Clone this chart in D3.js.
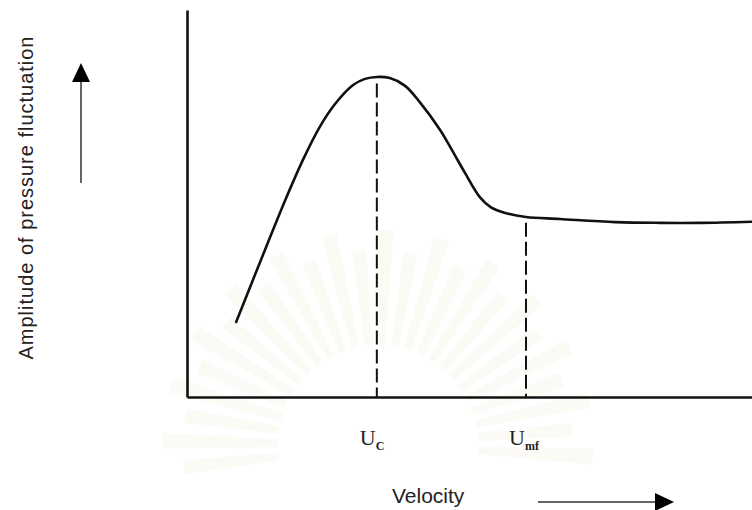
<!DOCTYPE html>
<html>
<head>
<meta charset="utf-8">
<script src="https://cdn.jsdelivr.net/npm/d3@7"></script>
<style>
  html, body { margin: 0; padding: 0; background: #fff; }
  svg { display: block; }
</style>
</head>
<body>
<svg id="chart" width="752" height="510"></svg>
<script>
// ---- data (arbitrary units: velocity 0..100, amplitude 0..100) ----
const velocity  = [8.7, 13.8, 17.4, 20.5, 23.5, 26.2, 29.4, 31.5, 33.6, 35.9, 38.6, 41.2, 44.8, 46.9, 49.2, 51.9, 53.8, 56.5, 60.0, 66.0, 75.8, 83.7, 90.8, 100];
const amplitude = [19.4, 38.0, 50.9, 61.2, 69.8, 75.7, 80.6, 82.2, 82.7, 82.4, 80.4, 76.2, 69.0, 63.8, 57.9, 51.5, 49.0, 47.5, 46.5, 46.0, 45.2, 45.0, 45.0, 45.3];
const markerNames = ["U", "U"];
const markerSubs  = ["C", "mf"];
const markerX     = [33.6, 60.0];
const markerTop   = [81.0, 45.0];
const xTitle = "Velocity";
const yTitle = "Amplitude of pressure fluctuation";

const svg = d3.select("#chart");
const x = d3.scaleLinear().domain([0, 100]).range([187, 752]);
const y = d3.scaleLinear().domain([0, 100]).range([397, 10]);

// very faint watermark sunburst
const wm = svg.append("g").attr("transform", "translate(378,445)");
const nRays = 26;
const arcGen = d3.arc().innerRadius(100).outerRadius(d => d.r);
const rays = d3.range(nRays).map(i => {
  const a0 = -Math.PI / 2 - 0.15 + i * (Math.PI + 0.3) / nRays;
  return { startAngle: a0, endAngle: a0 + (Math.PI + 0.3) / nRays * 0.55, r: 195 + (i % 2) * 20 };
});
wm.selectAll("path").data(rays).join("path")
  .attr("d", arcGen)
  .attr("fill", "#fcfaf4");

// axes (domain lines only)
svg.append("g").attr("transform", "translate(187,0)")
  .call(d3.axisLeft(y).ticks(0).tickSizeOuter(0))
  .call(g => g.select(".domain").attr("stroke", "#111").attr("stroke-width", 2.6));
svg.append("g").attr("transform", "translate(0,397)")
  .call(d3.axisBottom(x).ticks(0).tickSizeOuter(0))
  .call(g => g.select(".domain").attr("stroke", "#111").attr("stroke-width", 2.6));

// curve
const pts = velocity.map((v, i) => [v, amplitude[i]]);
svg.append("path")
  .datum(pts)
  .attr("fill", "none")
  .attr("stroke", "#111")
  .attr("stroke-width", 2.6)
  .attr("stroke-linecap", "round")
  .attr("d", d3.line().x(d => x(d[0])).y(d => y(d[1])).curve(d3.curveCatmullRom.alpha(0.5)));

// dashed markers
svg.selectAll("line.marker").data(markerX).join("line")
  .attr("class", "marker")
  .attr("x1", d => x(d)).attr("x2", d => x(d))
  .attr("y1", (d, i) => y(markerTop[i])).attr("y2", y(0))
  .attr("stroke", "#111")
  .attr("stroke-width", 2)
  .attr("stroke-dasharray", "14,5");

// marker labels
const lab = svg.selectAll("text.mlab").data(markerX).join("text")
  .attr("class", "mlab")
  .attr("x", d => x(d) - 17)
  .attr("y", 445)
  .attr("font-family", "Liberation Serif, Times New Roman, serif")
  .attr("font-size", 22)
  .attr("fill", "#222");
lab.append("tspan").text((d, i) => markerNames[i]);
lab.append("tspan")
  .attr("dy", 5)
  .attr("font-size", 12)
  .attr("font-weight", "bold")
  .text((d, i) => markerSubs[i]);

// axis titles
svg.append("text")
  .attr("x", 392).attr("y", 503)
  .attr("font-family", "Liberation Sans, Arial, sans-serif")
  .attr("font-size", 21)
  .attr("fill", "#222")
  .text(xTitle);

svg.append("text")
  .attr("transform", "translate(33,198) rotate(-90)")
  .attr("text-anchor", "middle")
  .attr("font-family", "Liberation Sans, Arial, sans-serif")
  .attr("font-size", 20)
  .attr("fill", "#222")
  .attr("textLength", 323)
  .attr("lengthAdjust", "spacing")
  .text(yTitle);

// arrows
svg.append("line").attr("x1", 81).attr("x2", 81).attr("y1", 183).attr("y2", 78)
  .attr("stroke", "#666").attr("stroke-width", 2);
svg.append("path").attr("d", d3.line()([[81, 63], [90, 82], [72, 82]]) + "Z").attr("fill", "#000");
svg.append("line").attr("x1", 538).attr("x2", 658).attr("y1", 502).attr("y2", 502)
  .attr("stroke", "#666").attr("stroke-width", 2);
svg.append("path").attr("d", d3.line()([[674, 502], [655, 493], [655, 511]]) + "Z").attr("fill", "#000");
</script>
</body>
</html>
